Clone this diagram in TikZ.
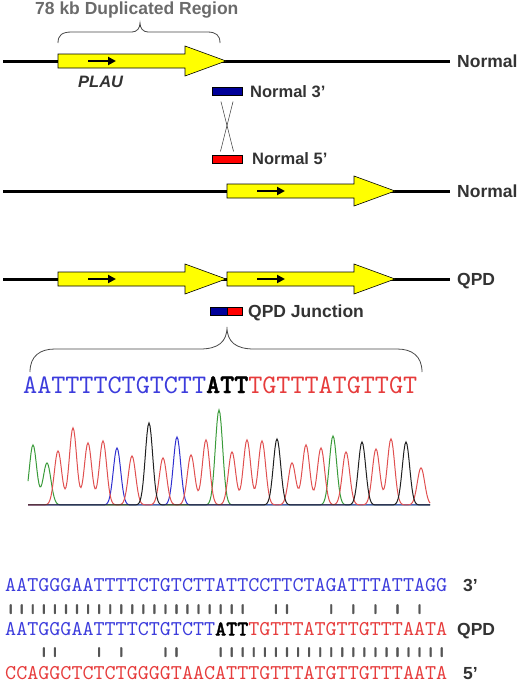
\documentclass[tikz,border=0pt]{standalone}
\usepackage{fontspec}
\usepackage{graphicx}
\setmainfont{Liberation Sans}
\newfontfamily\seqfont{lmmono10-regular}[Extension=.otf, BoldFont=lmmonolt10-bold, BoldFeatures={FakeBold=1.5}]
\usetikzlibrary{arrows.meta}
\definecolor{labelgray}{HTML}{333333}
\definecolor{bracegray}{HTML}{6B6B6B}
\definecolor{bargray}{HTML}{555555}
\definecolor{genefill}{HTML}{FFFF00}
\definecolor{probeblue}{HTML}{000099}
\definecolor{probered}{HTML}{FF0000}
\definecolor{seqblue}{HTML}{3C3CDC}
\definecolor{seqred}{HTML}{E63C3C}
\definecolor{traceA}{HTML}{3A9B3A}
\definecolor{traceC}{HTML}{3030D0}
\definecolor{traceG}{HTML}{202020}
\definecolor{traceT}{HTML}{E05050}

% yellow gene arrow with the small direction arrow inside
\newcommand{\gene}[2]{%
  \draw[fill=genefill, line width=0.6pt] (#1,#2-7) -- (#1+127,#2-7) -- (#1+127,#2-15)
    -- (#1+168,#2) -- (#1+127,#2+15) -- (#1+127,#2+7) -- (#1,#2+7) -- cycle;
  \draw[-{Triangle[length=8pt,width=8pt]}, line width=2.5pt] (#1+30,#2) -- (#1+58,#2);
}

\begin{document}
\begin{tikzpicture}[x=1pt, y=-1pt,
    lbl/.style={font=\fontsize{17.5}{20}\selectfont\bfseries, text=labelgray, inner sep=0, anchor=base west},
    lblsmall/.style={lbl, font=\fontsize{16.5}{20}\selectfont\bfseries},
    probe/.style={draw=black, line width=0.6pt, minimum width=30, minimum height=8, inner sep=0},
    seqbig/.style={font=\seqfont\fontsize{26.8}{30}\selectfont, inner sep=0, anchor=base west},
    seqrow/.style={font=\seqfont\fontsize{21.05}{24}\selectfont, inner sep=0, anchor=base west},
    bars/.style={seqrow, text=bargray},
    brace/.style={draw=labelgray!90, line width=0.8pt},
    declare function={pk(\pos,\ctr,\hgt,\wid)=\hgt*exp(-min(((\pos-\ctr)/\wid)^2,9));}]
  \useasboundingbox (0,0) rectangle (520,683);

  % three chromosome lines
  \draw[line width=3pt] (3,61) -- (450,61);
  \draw[line width=3pt] (3,191) -- (450,191);
  \draw[line width=3pt] (3,279) -- (450,279);
  \gene{58}{61}
  \gene{227}{191}
  \gene{58}{279}
  \gene{227}{279}

  \draw[brace] (58,43) .. controls (58,35) and (62,32) .. (72,32) -- (132,32)
    .. controls (137,32) and (140,28) .. (140,23) .. controls (140,28) and (143,32) .. (148,32)
    -- (207,32) .. controls (216,32) and (220,35) .. (220,43);
  \node[lbl, text=bracegray] (dup) at (35,14) {78 kb Duplicated Region};
  \node[lbl] (norm1) at (457,67) {Normal};
  \node[lblsmall, font=\fontsize{16.5}{20}\selectfont\bfseries\itshape] (plau) at (78,87) {PLAU};

  \node[probe, fill=probeblue] (n3) at (227,91.5) {};
  \node[lblsmall] (n3lbl) at (250,97) {Normal 3’};
  \node[probe, fill=probered] (n5) at (227,159.5) {};
  \node[lblsmall] (n5lbl) at (252,164.5) {Normal 5’};
  \draw[labelgray, line width=0.5pt, shorten <=6pt, shorten >=4pt] ([xshift=-7.5pt]n3.south) -- ([xshift=7.5pt]n5.north);
  \draw[labelgray, line width=0.5pt, shorten <=6pt, shorten >=4pt] ([xshift=7.5pt]n3.south) -- ([xshift=-7.5pt]n5.north);

  \node[lbl] (norm2) at (457,197) {Normal};
  \node[lbl] (qpd) at (457,285) {QPD};
  \node[probe, fill=probeblue, minimum width=17] (jb) at (218.5,311) {};
  \node[probe, fill=probered, minimum width=15, anchor=west] (jr) at (jb.east) {};
  \node[lbl] (junc) at (248,317.5) {QPD Junction};

  \draw[brace] (30,372) .. controls (30,356) and (40,349) .. (55,349) -- (200,349)
    .. controls (218,349) and (227,342) .. (227,327) .. controls (227,342) and (236,349) .. (254,349)
    -- (397,349) .. controls (412,349) and (422,356) .. (422,372);
  \node[seqbig] (jseq) at (23,393) {\color{seqblue}AATTTTCTGTCTT\textbf{\color{black}ATT}\color{seqred}TGTTTATGTTGT};

  % trace
  \draw[traceA, line width=1pt] plot[domain=28:430, samples=403] (\x, {505-pk(\x,33,60,5.2)-pk(\x,47,42,5.5)-pk(\x,219,95,5.2)-pk(\x,333,69,5.2)});
  \draw[traceC, line width=1pt] plot[domain=28:430, samples=403] (\x, {505-pk(\x,117,57,5.2)-pk(\x,177,68,5.2)});
  \draw[traceT, line width=1pt] plot[domain=28:430, samples=403] (\x, {505-pk(\x,58,54,5.2)-pk(\x,73,77,5.2)-pk(\x,88,62,5.2)-pk(\x,103,64,5.2)-pk(\x,132,49,5.2)-pk(\x,163,47,5.2)-pk(\x,191,50,5.2)-pk(\x,206,65,5.2)-pk(\x,232,53,5.2)-pk(\x,247,65,5.2)-pk(\x,262,64,5.2)-pk(\x,292,42,5.2)-pk(\x,306,60,5.2)-pk(\x,321,57,5.2)-pk(\x,346,53,5.2)-pk(\x,376,56,5.2)-pk(\x,391,66,5.2)-pk(\x,421,37,5.2)});
  \draw[traceG, line width=1pt] plot[domain=28:430, samples=403] (\x, {505-pk(\x,149,82,5.2)-pk(\x,277,66,5.2)-pk(\x,362,63,5.2)-pk(\x,406,63,5.2)});

  % alignment
  \node[seqrow] (row3) at (5,591) {\color{seqblue}AATGGGAATTTTCTGTCTTATTCCTTCTAGATTTATTAGG};
  \node[bars] (bar1) at (5,613) {\scalebox{1}[0.6]{\textbf{||||||||||||||||||||||~~||~~~|~|~|~|~|}}};
  \node[seqrow] (rowq) at (5,635.5) {\color{seqblue}AATGGGAATTTTCTGTCTT\textbf{\color{black}ATT}\color{seqred}TGTTTATGTTGTTTAATA};
  \node[bars] (bar2) at (5,656) {\scalebox{1}[0.6]{\textbf{~~~||~~~|~|~~~||~~~|||||||||||||||||||||}}};
  \node[seqrow] (row5) at (5,679) {\color{seqred}CCAGGCTCTCTGGGGTAACATTTGTTTATGTTGTTTAATA};
  \node[lbl] (end3) at (463,591) {3’};
  \node[lbl] (endq) at (457,635.5) {QPD};
  \node[lbl] (end5) at (463,679) {5’};
\end{tikzpicture}
\end{document}
